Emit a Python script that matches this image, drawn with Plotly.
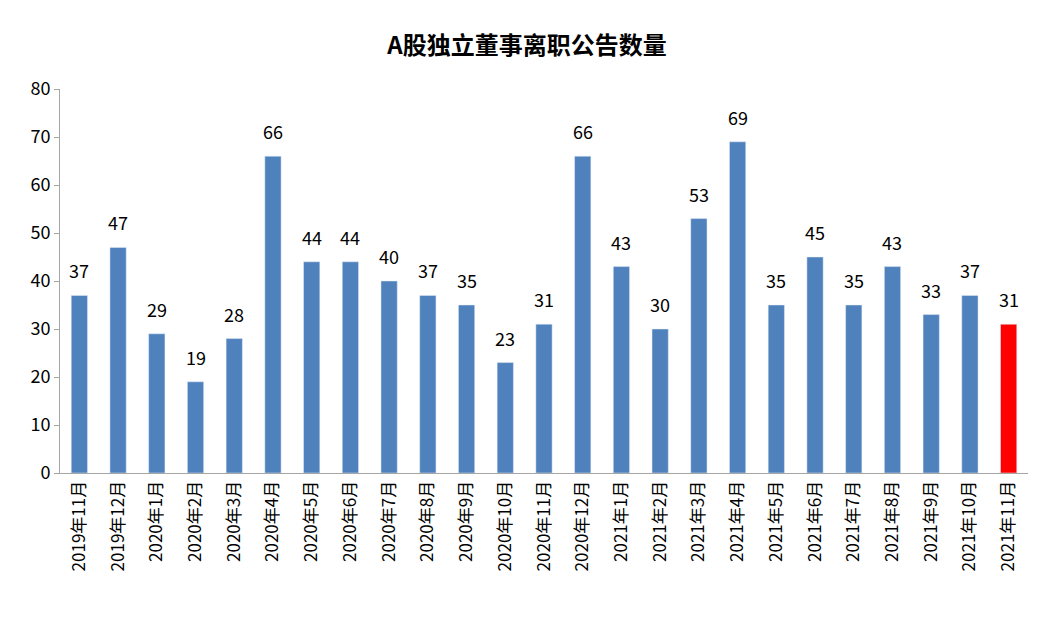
import plotly.graph_objects as go

months = ["2019年11月", "2019年12月"] + [f"2020年{i}月" for i in range(1, 13)] + [f"2021年{i}月" for i in range(1, 12)]
counts = [37, 47, 29, 19, 28, 66, 44, 44, 40, 37, 35, 23, 31, 66, 43, 30, 53, 69, 35, 45, 35, 43, 33, 37, 31]
colors = ["#4f81bd"] * (len(counts) - 1) + ["#ff0000"]

fig = go.Figure(go.Bar(x=months, y=counts, marker_color=colors))

# value labels floated a bit above each bar
for m, c in zip(months, counts):
    fig.add_annotation(x=m, y=c, text=str(c), showarrow=False, yanchor="bottom",
                       yshift=10, font=dict(size=18, color="#000"))

fig.update_layout(
    width=1038, height=621,
    paper_bgcolor="white", plot_bgcolor="white",
    margin=dict(l=52, r=18, t=81, b=156),
    bargap=0.58,
    showlegend=False,
    font=dict(family="Noto Sans CJK SC", color="#000"),
    title=dict(text="<b>A股独立董事离职公告数量</b>", x=0.5, y=0.94, xanchor="center",
               yanchor="middle", font=dict(size=24)),
)
fig.update_xaxes(tickangle=-90, tickfont=dict(size=17), showline=True,
                 linecolor="#a6a6a6", ticks="")
fig.update_yaxes(range=[0, 80], dtick=10, tickfont=dict(size=18), showgrid=False,
                 showline=True, linecolor="#a6a6a6", ticks="outside", ticklen=5,
                 tickcolor="#a6a6a6")
fig.write_html("out.html")
